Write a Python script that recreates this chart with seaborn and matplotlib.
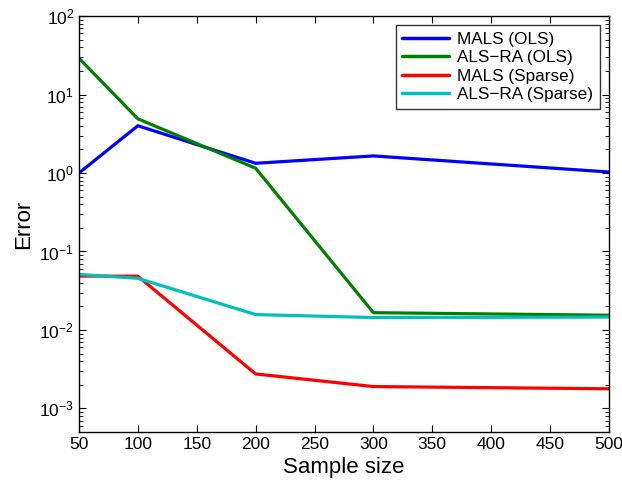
import matplotlib
matplotlib.use("Agg")
import matplotlib.pyplot as plt
import matplotlib.ticker as mticker
import pandas as pd
import seaborn as sns

# data
sample_size = [50, 100, 200, 300, 500]
mals_ols = [1.0, 4.0, 1.33, 1.65, 1.03]
alsra_ols = [29.0, 4.9, 1.15, 0.0166, 0.0154]
mals_sparse = [0.0486, 0.0484, 0.00275, 0.0019, 0.00178]
alsra_sparse = [0.051, 0.0455, 0.0157, 0.0144, 0.0146]

series_names = ["MALS (OLS)", "ALS\u2212RA (OLS)", "MALS (Sparse)", "ALS\u2212RA (Sparse)"]
series_colors = ["#0000ff", "#008000", "#ff0000", "#00bfbf"]

rows = []
for name, vals in zip(series_names, [mals_ols, alsra_ols, mals_sparse, alsra_sparse]):
    for x, y in zip(sample_size, vals):
        rows.append({"Sample size": x, "Error": y, "Method": name})
df = pd.DataFrame(rows)

sns.set_style("ticks")
plt.rcParams["font.family"] = ["Liberation Sans", "DejaVu Sans"]
plt.rcParams["mathtext.fontset"] = "custom"
plt.rcParams["mathtext.rm"] = "Liberation Sans"
plt.rcParams["mathtext.it"] = "Liberation Sans:italic"
plt.rcParams["text.color"] = "black"
plt.rcParams["axes.labelcolor"] = "black"
plt.rcParams["xtick.color"] = "black"
plt.rcParams["ytick.color"] = "black"

fig = plt.figure(figsize=(6.22, 4.86), dpi=100)
ax = fig.add_axes([0.127, 0.111, 0.852, 0.856])

sns.lineplot(data=df, x="Sample size", y="Error", hue="Method",
             palette=dict(zip(series_names, series_colors)),
             linewidth=2.3, ax=ax)

ax.set_yscale("log")
ax.set_xlim(50, 500)
ax.set_ylim(5e-4, 100)
ax.set_xticks(range(50, 501, 50))
ax.yaxis.set_major_locator(mticker.LogLocator(base=10, numticks=10))
ax.yaxis.set_minor_locator(mticker.LogLocator(base=10, subs=range(2, 10), numticks=20))
ax.yaxis.set_minor_formatter(mticker.NullFormatter())

ax.tick_params(which="both", direction="in", top=True, right=True, labelsize=12.5,
               colors="black", labelcolor="black")
ax.tick_params(which="major", length=5, width=0.8)
ax.tick_params(which="minor", length=3, width=0.6)
for s in ax.spines.values():
    s.set_linewidth(1.0)
    s.set_color("black")

ax.set_xlabel("Sample size", fontsize=16, color="black")
ax.set_ylabel("Error", fontsize=16, color="black")

leg = ax.legend(loc="upper right", fontsize=12.3, frameon=True, fancybox=False,
                edgecolor="black", handlelength=2.7, borderpad=0.4,
                labelspacing=0.2, handletextpad=0.5, borderaxespad=0,
                bbox_to_anchor=(0.983, 0.978))
leg.get_frame().set_linewidth(1.0)
for line in leg.get_lines():
    line.set_linewidth(2.5)
for t in leg.get_texts():
    t.set_color("black")

fig.savefig("out.png", dpi=100)
